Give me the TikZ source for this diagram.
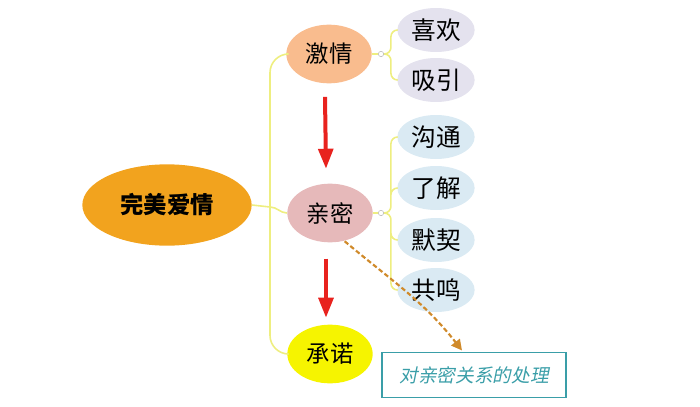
\documentclass[tikz,border=0pt]{standalone}
\usepackage{fontspec}
\setmainfont{Noto Sans CJK SC}
\newfontfamily\slantcjk[FakeSlant=0.2]{Noto Sans CJK SC}
\usetikzlibrary{shapes.geometric, arrows.meta, positioning}

\definecolor{mainorange}{HTML}{F2A31E}
\definecolor{passion}{HTML}{F9BC8E}
\definecolor{intimacy}{HTML}{E6B9BA}
\definecolor{commit}{HTML}{F6F400}
\definecolor{lavender}{HTML}{E4E2EE}
\definecolor{skyblue}{HTML}{DAEAF3}
\definecolor{branch}{HTML}{EEEE80}
\definecolor{flowred}{HTML}{E8221E}
\definecolor{noteline}{HTML}{D08A2A}
\definecolor{teal}{HTML}{3A9EA8}

\tikzset{
  mainnode/.style={ellipse, fill=mainorange, minimum width=127pt, minimum height=61pt, inner sep=0pt, font=\fontsize{17.5}{17.5}\selectfont\bfseries},
  midnode/.style={ellipse, minimum width=64pt, minimum height=44pt, inner sep=0pt, font=\fontsize{17.5}{17.5}\selectfont},
  leafnode/.style={ellipse, minimum width=58pt, minimum height=33pt, inner sep=0pt, font=\fontsize{18.5}{18.5}\selectfont},
  knob/.style={circle, draw=gray!60, fill=white, minimum size=4pt, inner sep=0pt},
  branchline/.style={draw=branch, line width=1.2pt, rounded corners=5pt},
  flow/.style={draw=flowred, line width=3pt, -{Triangle[width=11pt,length=15pt]}},
  note/.style={draw=noteline, line width=1.6pt, dash pattern=on 3.5pt off 2pt, -{Triangle[width=8pt,length=8pt]}}
}

\begin{document}
\begin{tikzpicture}[x=0.75pt, y=-0.75pt]
    \useasboundingbox (0,0) rectangle (700,407);

    % centre and the three stages
    \node[mainnode] (love) at (167,205) {完美爱情};
    \node[midnode, fill=passion] (passion) at (329,54) {激情};
    \node[midnode, fill=intimacy] (intimacy) at (330,213) {亲密};
    \node[midnode, fill=commit] (commit) at (330,354) {承诺};

    % leaves
    \node[leafnode, fill=lavender] (like) at (436,30) {喜欢};
    \node[leafnode, fill=lavender] (attract) at (436,80) {吸引};
    \node[leafnode, fill=skyblue] (talk) at (436,137) {沟通};
    \node[leafnode, fill=skyblue] (know) at (436,188) {了解};
    \node[leafnode, fill=skyblue] (tacit) at (436,240) {默契};
    \node[leafnode, fill=skyblue] (echo) at (436,290) {共鸣};

    \node[draw=teal, line width=0.8pt, minimum width=138pt, minimum height=34pt, inner sep=0pt,
          text=teal, font=\slantcjk\fontsize{14}{14}\selectfont] (deal) at (474,375) {对亲密关系的处理};

    % knobs
    \node[knob] (k1) at (381,54) {};
    \node[knob] (k2) at (381,213) {};
    \coordinate (hub) at (270,207);

    % branches
    \path[branchline, rounded corners=14pt]
        (love.east) -- (hub)
        (hub) |- (passion.west)
        (hub) |- (commit.west)
        (hub) to[out=0, in=180] (intimacy.west);
    \path[branchline]
        (passion.east) -- (k1)
        (intimacy.east) -- (k2)
        (k1.east) -- ++(7,0) |- (like.west)
        (k1.east) -- ++(7,0) |- (attract.west)
        (k2.east) -- ++(7,0) |- (talk.west)
        (k2.east) -- ++(7,0) |- (know.west)
        (k2.east) -- ++(7,0) |- (tacit.west)
        (k2.east) -- ++(7,0) |- (echo.west);

    % red flow arrows
    \draw[flow] ([xshift=-3pt, yshift=-10pt]passion.south) -- ([xshift=-3pt, yshift=11pt]intimacy.north);
    \draw[flow] ([xshift=-3pt, yshift=-12pt]intimacy.south) -- ([xshift=-3pt, yshift=5pt]commit.north);

    % note
    \draw[note] ([xshift=11pt, yshift=1pt]intimacy.south) to[out=-40, in=128] ([xshift=-9pt, yshift=1pt]deal.north);

\end{tikzpicture}
\end{document}
